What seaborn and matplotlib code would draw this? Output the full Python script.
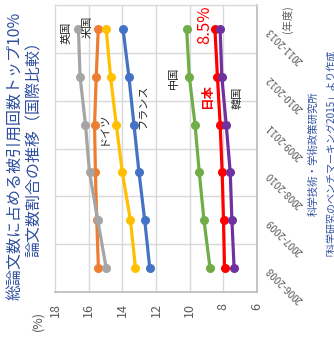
import matplotlib
matplotlib.use("Agg")
import matplotlib.pyplot as plt
import seaborn as sns
import pandas as pd
import numpy as np

# Share of top-10% most-cited papers in all papers (%), 3-year moving windows
periods = ["2006-2008", "2007-2009", "2008-2010", "2009-2011", "2010-2012", "2011-2013"]
usa = [15.42, 15.52, 15.60, 15.65, 15.55, 15.43]
uk = [14.96, 15.46, 15.95, 16.19, 16.51, 16.61]
germany = [13.22, 13.52, 14.00, 14.36, 14.70, 14.96]
france = [12.37, 12.67, 13.01, 13.31, 13.61, 13.96]
china = [8.79, 9.15, 9.43, 9.68, 10.02, 10.18]
japan = [7.93, 7.99, 8.07, 8.19, 8.35, 8.5]
korea = [7.36, 7.49, 7.59, 7.83, 8.09, 8.19]

countries = ["米国", "英国", "ドイツ", "フランス", "中国", "日本", "韓国"]
series = [usa, uk, germany, france, china, japan, korea]
colors = ["#ED7D31", "#A5A5A5", "#FFC000", "#4472C4", "#70AD47", "#FF0000", "#7030A0"]
value_ticks = [18, 16, 14, 12, 10, 8, 6]

rows = []
for name, vals in zip(countries, series):
    for i, v in enumerate(vals):
        rows.append({"country": name, "pos": i, "value": v})
df = pd.DataFrame(rows)

sns.set_style("white")
plt.rcParams["font.family"] = ["Noto Sans CJK JP", "DejaVu Sans"]

W, H = 334, 337
fig = plt.figure(figsize=(W / 100, H / 100), dpi=100)
ax = fig.add_axes([55 / W, 1 - 292 / H, (257 - 55) / W, (292 - 5) / H])

sns.lineplot(data=df, x="value", y="pos", hue="country", hue_order=countries,
             palette=colors, orient="y", sort=False, marker="o", markersize=6.5,
             markeredgewidth=0, linewidth=2.3, legend=False, ax=ax)

ax.set_xlim(18, 6)
ax.set_ylim(-0.5, 5.5)
ax.set_xlabel("")
ax.set_ylabel("")

# value axis along the bottom, labels turned sideways
ax.set_xticks(value_ticks)
ax.set_xticklabels([str(t) for t in value_ticks], rotation=90, color="#595959", fontsize=9)
ax.tick_params(axis="x", length=0, pad=8)

# period axis on the right
ax.yaxis.tick_right()
ax.set_yticks(range(len(periods)))
ax.set_yticklabels(periods, fontsize=7, color="#595959")
plt.setp(ax.get_yticklabels(), rotation=135, ha="right", va="center", rotation_mode="anchor")
ax.tick_params(axis="y", length=0, pad=8)

ax.grid(False)
for v in value_ticks[1:-1]:
    ax.axvline(v, color="#D9D9D9", lw=1, zorder=0)
for b in np.arange(0.5, 5.0, 1):
    ax.axhline(b, color="#D9D9D9", lw=1, zorder=0)

for side in ["top", "left"]:
    ax.spines[side].set_color("#D9D9D9")
    ax.spines[side].set_linewidth(1)
for side in ["bottom", "right"]:
    ax.spines[side].set_color("#BFBFBF")
    ax.spines[side].set_linewidth(1.3)

# series labels
labels = [
    ("英国", 17.3, 4.92, "#262626", 8),
    ("米国", 16.07, 5.04, "#262626", 8),
    ("ドイツ", 15.12, 2.93, "#262626", 8),
    ("フランス", 12.79, 3.37, "#262626", 8),
    ("中国", 10.94, 3.97, "#262626", 8),
    ("日本", 8.91, 3.58, "#FF0000", 9),
    ("韓国", 7.18, 3.56, "#262626", 8),
]
for text, x, y, c, fs in labels:
    ax.text(x, y, text, rotation=90, color=c, fontsize=fs, ha="center", va="center",
            fontweight="bold" if text == "日本" else "normal")
ax.text(9.12, 5.08, f"{japan[-1]}%", rotation=90, color="#FF0000", fontsize=12,
        ha="center", va="center")

navy = "#2F4F9F"
fig.text(15 / W, 1 - 156 / H, "総論文数に占める被引用回数トップ10%", rotation=90,
         color=navy, fontsize=11.5, ha="center", va="center")
fig.text(34 / W, 1 - 145 / H, "論文数割合の推移（国際比較）", rotation=90,
         color=navy, fontsize=11.5, ha="center", va="center")
fig.text(38 / W, 1 - 321 / H, "(%)", rotation=90, color="#595959", fontsize=9,
         ha="center", va="center")
fig.text(287 / W, 1 - 19 / H, "(年度)", rotation=90, color="#595959", fontsize=7.5,
         ha="center", va="center")
fig.text(314 / W, 1 - 154 / H, "科学技術・学術政策研究所", rotation=90, color=navy,
         fontsize=7.5, ha="center", va="center")
fig.text(325 / W, 1 - 150 / H, "「科学研究のベンチマーキング2015」より作成", rotation=90,
         color=navy, fontsize=7.2, ha="center", va="center")

fig.savefig("out.png", dpi=100)
